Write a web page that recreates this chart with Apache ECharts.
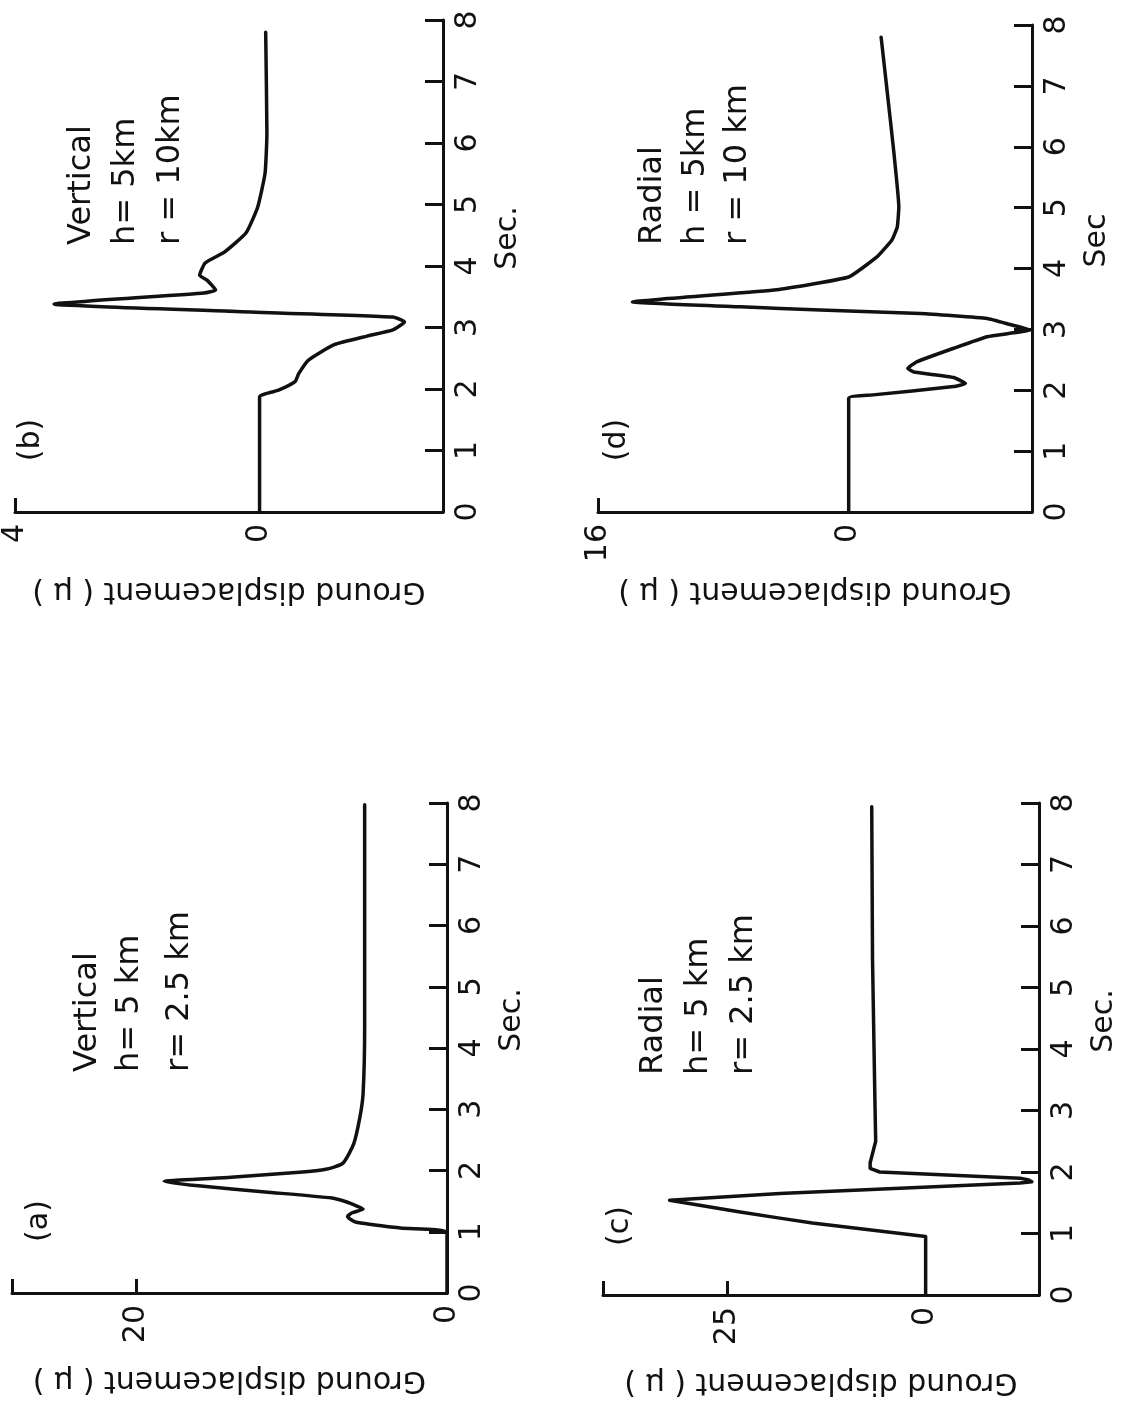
<!DOCTYPE html>
<html>
<head>
<meta charset="utf-8">
<script src="https://cdn.jsdelivr.net/npm/echarts@6/dist/echarts.min.js"></script>
<style>
html,body{margin:0;padding:0;background:#fff;}
#chart{width:1125px;height:1406px;}
</style>
</head>
<body>
<div id="chart"></div>
<script>
// ---- data (time in s, ground displacement in microns) ----
const timeTicks = [0,1,2,3,4,5,6,7,8];

const tA = [0, 0.98, 1.06, 1.16, 1.25, 1.31, 1.37, 1.42, 1.49, 1.55, 1.65, 1.75, 1.82, 1.89, 1.97, 2.02, 2.12, 2.44, 2.88, 3.26, 4.35, 7.97];
const dA = [0, 0, 3.0, 5.9, 6.4, 6.1, 5.4, 5.8, 6.5, 7.4, 11.7, 16.0, 18.2, 13.9, 9.5, 7.8, 6.7, 6.0, 5.6, 5.4, 5.3, 5.3];

const tB = [0, 1.87, 1.98, 2.12, 2.25, 2.47, 2.72, 2.86, 2.96, 3.09, 3.17, 3.26, 3.38, 3.56, 3.61, 3.77, 3.85, 4.05, 4.23, 4.54, 4.96, 5.51, 6.16, 7.8];
const dB = [0, 0, -0.31, -0.58, -0.64, -0.8, -1.22, -1.76, -2.18, -2.37, -2.18, 0.38, 3.36, 0.91, 0.72, 0.86, 0.98, 0.89, 0.57, 0.22, 0.03, -0.09, -0.12, -0.1];

const tC = [0, 0.95, 1.17, 1.25, 1.35, 1.54, 1.65, 1.82, 1.84, 1.87, 1.9, 2.0, 2.06, 2.09, 2.15, 2.25, 2.5, 3.17, 5.45, 7.94];
const dC = [0, 0, 14.3, 18.4, 23.4, 32.3, 18.4, -11.9, -13.4, -13.0, -11.9, 5.8, 7.0, 7.25, 7.0, 6.8, 6.3, 6.4, 6.7, 6.8];

const tD = [0, 1.87, 1.92, 2.06, 2.11, 2.21, 2.3, 2.36, 2.47, 2.69, 2.88, 2.99, 3.08, 3.18, 3.26, 3.32, 3.37, 3.45, 3.65, 3.86, 4.19, 4.47, 4.68, 5.01, 5.94, 7.04, 7.8];
const dD = [0, 0, -1.4, -6.7, -7.45, -6.7, -4.15, -3.77, -4.37, -6.7, -8.84, -11.6, -10.3, -8.84, -4.58, 1.8, 6.9, 13.8, 4.6, 0, -1.8, -2.76, -3.1, -3.2, -2.87, -2.4, -2.07];

// displacement axis ranges and tick labels
const rangeA = [0, 28],      ticksA = [0, 20, 28],    labelsA = [0, 20];
const rangeB = [-3, 4],      ticksB = [0, 4],         labelsB = [0, 4];
const rangeC = [-14.3, 40.7],ticksC = [0, 25, 40.7],  labelsC = [0, 25];
const rangeD = [-11.7, 16],  ticksD = [0, 16],        labelsD = [0, 16];

const panelLetters = ['(a)', '(b)', '(c)', '(d)'];
const panelNotes = [
  ['Vertical', 'h= 5 km', 'r= 2.5 km'],
  ['Vertical', 'h= 5km', 'r = 10km'],
  ['Radial', 'h= 5 km', 'r= 2.5 km'],
  ['Radial', 'h = 5km', 'r = 10 km']
];
const timeNames = ['Sec.', 'Sec.', 'Sec.', 'Sec'];
const yName = 'Ground displacement ( μ )';

// ---- layout ----
const FONT = 'DejaVu Sans';
const INK = '#111';
const grids = [
  {left: 12,  top: 803, width: 435, height: 490},
  {left: 7,   top: 20,  width: 436, height: 492},
  {left: 603, top: 803, width: 436, height: 492},
  {left: 598, top: 25,  width: 434, height: 487}
];
const nameGaps = [72, 64, 72, 64];
const smoothing = [0.2, 0.15, false, 0.12];
const ranges = [rangeA, rangeB, rangeC, rangeD];
const tickSets = [ticksA, ticksB, ticksC, ticksD];
const labelSets = [labelsA, labelsB, labelsC, labelsD];
const series = [[tA, dA], [tB, dB], [tC, dC], [tD, dD]];

const xAxes = ranges.map((r, i) => ({
  gridIndex: i, type: 'value', min: r[0], max: r[1], inverse: true, position: 'bottom',
  axisLine: {onZero: false, lineStyle: {color: INK, width: 3}},
  axisTick: {inside: true, length: 14, lineStyle: {color: INK, width: 3}, customValues: tickSets[i]},
  axisLabel: {rotate: 90, margin: 12, fontSize: 30, fontFamily: FONT, color: INK, customValues: labelSets[i]},
  splitLine: {show: false},
  name: yName, nameLocation: 'middle', nameRotate: 180, nameGap: nameGaps[i],
  nameTextStyle: {fontSize: 30, fontFamily: FONT, color: INK}
}));

const yAxes = ranges.map((r, i) => ({
  gridIndex: i, type: 'value', min: 0, max: 8, interval: 1, position: 'right',
  axisLine: {onZero: false, lineStyle: {color: INK, width: 3}},
  axisTick: {inside: true, length: 18, lineStyle: {color: INK, width: 3}},
  axisLabel: {rotate: 90, margin: 10, fontSize: 30, fontFamily: FONT, color: INK},
  splitLine: {show: false},
  name: timeNames[i], nameLocation: 'middle', nameRotate: 90, nameGap: 50,
  nameTextStyle: {fontSize: 30, fontFamily: FONT, color: INK, padding: [0, 0, 0, 56]}
}));

const seriesList = series.map((s, i) => ({
  type: 'line', xAxisIndex: i, yAxisIndex: i,
  data: s[0].map((t, k) => [s[1][k], t]),
  showSymbol: false, smooth: smoothing[i], clip: false,
  lineStyle: {color: INK, width: 3.5, join: 'round', cap: 'round'}
}));

// text annotations (rotated to follow the page orientation)
const letterPos = [[39, 1221], [31, 440], [620, 1226], [617, 440]];
const notePos = [
  {xs: [88, 130, 180], y: 1072},
  {xs: [82, 126, 171], y: 245},
  {xs: [654, 699, 744], y: 1075},
  {xs: [653, 696, 738], y: 245}
];
const graphics = [];
panelLetters.forEach((txt, i) => {
  graphics.push({type: 'text', x: letterPos[i][0], y: letterPos[i][1], rotation: Math.PI / 2,
    style: {text: txt, fontSize: 30, fontFamily: FONT, fill: INK, textAlign: 'center', textVerticalAlign: 'middle'}});
});
panelNotes.forEach((lines, i) => {
  lines.forEach((txt, k) => {
    graphics.push({type: 'text', x: notePos[i].xs[k], y: notePos[i].y, rotation: Math.PI / 2,
      style: {text: txt, fontSize: 32, fontFamily: FONT, fill: INK, textAlign: 'left', textVerticalAlign: 'middle'}});
  });
});

const chart = echarts.init(document.getElementById('chart'));
chart.setOption({
  backgroundColor: '#fff',
  animation: false,
  grid: grids,
  xAxis: xAxes,
  yAxis: yAxes,
  series: seriesList,
  graphic: graphics
});
</script>
</body>
</html>
